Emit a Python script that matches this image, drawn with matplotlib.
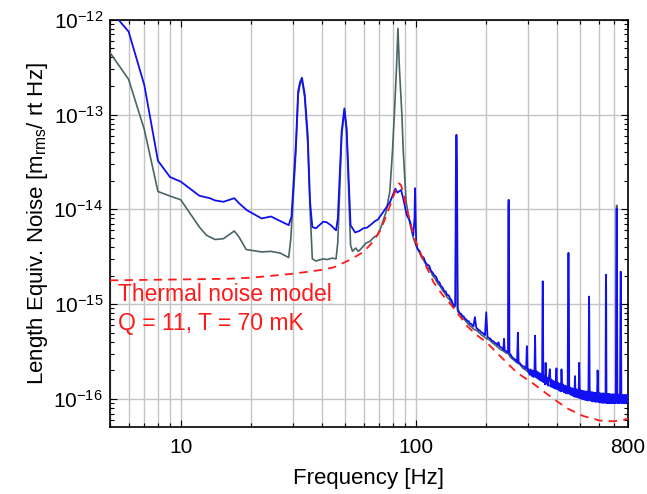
import matplotlib
matplotlib.use("Agg")
import matplotlib.pyplot as plt
from matplotlib.ticker import LogLocator, FixedLocator, FixedFormatter, NullFormatter, LogFormatterSciNotation

plt.rcParams['font.family'] = ['Liberation Sans', 'DejaVu Sans']
plt.rcParams['mathtext.fontset'] = 'custom'
plt.rcParams['mathtext.rm'] = 'Liberation Sans'
plt.rcParams['mathtext.it'] = 'Liberation Sans:italic'
plt.rcParams['mathtext.bf'] = 'Liberation Sans:bold'
plt.rcParams['lines.scale_dashes'] = False

# ---------------- data ----------------
blue_freq = [5, 6, 7, 8, 9, 10, 12, 13.3, 14, 15.2, 16.9, 17.7, 19.1, 22.1, 24.2, 28.8,
             29.6, 30.9, 31.6, 32.2, 32.8, 33.7, 34.7, 35.5, 36.3, 37.6, 40.4, 41.8, 43.5,
             45.8, 46.6, 48.4, 49.7, 50.8, 52.8, 55.2, 57.5, 59.8, 62, 64.5, 67.1, 69,
             72.8, 77.8, 81.9, 83.5, 85.0, 86.6, 88.5, 91.5, 94.5, 97.6, 98.8, 99.3, 99.9,
             100.5, 102, 104, 106, 108, 110, 112, 114, 116, 118, 120, 122, 124, 126, 128,
             130, 132, 134, 136, 138, 140, 142, 144, 145.5, 147.3, 148.2, 149, 149.8,
             150.8, 152, 154, 156, 158, 160, 162, 164, 166, 168, 170, 172, 174, 176,
             178.5, 181, 183, 185, 187, 189, 191, 193, 195, 197, 199.5, 202, 205, 208,
             211, 214, 217, 220, 223, 225, 227, 230, 233, 236, 237.5, 239, 242, 245, 247,
             247.8, 248.5, 249.2, 250.5, 253, 256, 259, 262, 265, 268, 270, 272, 274,
             277, 280, 283, 286, 289, 292, 295, 297, 299, 302, 305, 308, 311, 314, 317,
             320, 322, 324, 327, 330, 333, 336, 339, 342, 345, 346.3, 347, 347.7, 349,
             352, 355, 357, 359, 362, 365, 368, 372, 375, 378, 381, 384, 387, 390, 393,
             397, 400, 404, 408, 412, 415, 417, 420, 424, 428, 432, 436, 440, 443, 445,
             446.5, 448, 450, 454, 458, 462, 466, 470, 473, 476, 479, 483, 487, 491, 493,
             496, 499, 503, 507, 511, 515, 519, 523, 527, 531, 535, 539, 543, 545.5,
             546.5, 547.5, 550, 554, 558, 562, 566, 570, 574, 578, 582, 586, 590, 594,
             598, 602, 606, 610, 614, 618, 622, 626, 630, 634, 638, 642, 644, 645, 646,
             648, 652, 656, 660, 665, 670, 675, 680, 685, 690, 695, 700, 705, 710, 714,
             716, 718, 721, 725, 730, 735, 740, 743.5, 745, 746.5, 750, 755, 760, 765,
             770, 775, 780, 785, 790, 795, 800]
blue_asd = [1.27e-12, 7.5e-13, 2.04e-13, 3.25e-14, 2.19e-14, 1.96e-14, 1.39e-14, 1.31e-14,
            1.24e-14, 1.2e-14, 1.31e-14, 1.16e-14, 9.8e-15, 8.0e-15, 8.4e-15, 6.8e-15,
            8.4e-15, 4.8e-14, 1.77e-13, 2.2e-13, 2.44e-13, 1.63e-13, 6.1e-14, 1.2e-14,
            6.5e-15, 6.3e-15, 7.4e-15, 7.3e-15, 6.8e-15,
            6.0e-15, 8.0e-15, 6.65e-14, 1.16e-13, 7.2e-14, 6.8e-15, 5.7e-15, 5.9e-15,
            6.3e-15, 6.4e-15, 6.9e-15, 7.5e-15, 7.8e-15,
            9.4e-15, 1.2e-14, 1.65e-14, 1.5e-14, 1.55e-14, 1.6e-14, 1.3e-14, 8.7e-15,
            7.5e-15, 5.3e-15, 8e-15, 1.67e-14, 8e-15,
            4.2e-15, 3.8e-15, 3.6e-15, 3.2e-15, 3.1e-15, 2.75e-15, 2.6e-15, 2.55e-15,
            2.25e-15, 2.15e-15, 2.0e-15, 1.95e-15, 1.75e-15, 1.7e-15, 1.55e-15,
            1.5e-15, 1.38e-15, 1.36e-15, 1.25e-15, 1.24e-15, 1.15e-15, 1.1e-15, 1.0e-15,
            9.5e-16, 1.0e-15, 3e-14, 6.1e-14, 3e-14,
            9e-16, 8.5e-16, 8.0e-16, 7.9e-16, 7.5e-16, 7.4e-16, 7.0e-16, 6.9e-16, 6.6e-16,
            6.6e-16, 6.2e-16, 6.2e-16, 6.0e-16, 5.8e-16,
            7.3e-16, 5.6e-16, 5.5e-16, 5.3e-16, 5.3e-16, 5.1e-16, 5.0e-16, 4.95e-16,
            4.8e-16, 4.7e-16, 8.2e-16, 4.5e-16, 4.4e-16, 4.3e-16,
            4.1e-16, 4.05e-16, 3.9e-16, 3.85e-16, 3.7e-16, 3.95e-16, 3.6e-16, 3.5e-16,
            3.45e-16, 3.3e-16, 4.3e-16, 3.25e-16, 3.2e-16, 3.1e-16, 3.1e-16,
            8e-15, 1.26e-14, 8e-15, 3.0e-16, 2.95e-16, 2.8e-16, 2.7e-16, 2.65e-16,
            2.6e-16, 2.5e-16, 2.45e-16, 5.0e-16, 2.4e-16,
            2.4e-16, 2.3e-16, 2.25e-16, 2.2e-16, 2.2e-16, 2.1e-16, 2.1e-16, 3.6e-16,
            2.0e-16, 2.05e-16, 1.8e-16, 2.05e-16, 1.75e-16, 2.0e-16, 1.7e-16,
            1.95e-16, 4.65e-16, 1.7e-16, 1.95e-16, 1.65e-16, 1.9e-16, 1.6e-16, 1.85e-16,
            1.55e-16, 1.8e-16, 1.2e-15, 1.74e-15, 1.2e-15, 1.5e-16,
            1.72e-16, 1.42e-16, 2.4e-16, 1.45e-16, 1.68e-16, 1.38e-16, 1.62e-16, 2.06e-16,
            1.35e-16, 1.6e-16, 1.33e-16, 1.55e-16, 1.3e-16, 1.52e-16, 1.28e-16,
            2.1e-16, 1.27e-16, 1.48e-16, 1.22e-16, 1.45e-16, 1.2e-16, 2.05e-16, 1.22e-16,
            1.42e-16, 1.17e-16, 1.38e-16, 1.15e-16, 1.36e-16, 1.14e-16, 2.0e-15,
            3.47e-15, 2.0e-15, 1.14e-16, 1.32e-16, 1.1e-16, 1.3e-16, 1.08e-16, 1.28e-16,
            1.06e-16, 1.74e-16, 1.05e-16, 1.26e-16, 1.04e-16, 1.25e-16, 1.03e-16,
            2.4e-16, 1.02e-16, 1.23e-16, 1.0e-16, 1.22e-16, 9.9e-17, 1.21e-16, 9.8e-17,
            1.2e-16, 9.7e-17, 1.2e-16, 9.6e-17, 1.19e-16, 8e-16,
            1.2e-15, 8e-16, 9.7e-17, 1.18e-16, 9.5e-17, 1.18e-16, 9.4e-17, 1.17e-16,
            9.4e-17, 1.16e-16, 9.3e-17, 1.16e-16, 9.3e-17, 2.0e-16,
            1.15e-16, 9.2e-17, 1.15e-16, 9.2e-17, 1.14e-16, 9.1e-17, 1.14e-16, 9.1e-17,
            1.14e-16, 9.1e-17, 1.13e-16, 9.1e-17, 1.5e-15, 2.04e-15, 1.5e-15,
            1.13e-16, 9.0e-17, 1.13e-16, 9.0e-17, 1.13e-16, 9.0e-17, 1.12e-16, 9.0e-17,
            1.12e-16, 9.0e-17, 1.12e-16, 9.0e-17, 1.12e-16, 9.0e-17, 5e-15,
            1.02e-14, 5e-15, 1.11e-16, 9.0e-17, 1.11e-16, 9.0e-17, 1.11e-16, 1.5e-15,
            2.2e-15, 1.5e-15, 9.0e-17, 1.1e-16, 9.0e-17, 1.1e-16,
            9.0e-17, 1.1e-16, 9.0e-17, 1.1e-16, 9.0e-17, 1.1e-16, 1.0e-16]

gray_freq = [5, 6, 7, 8, 9, 10, 12, 12.9, 14, 15.2, 16.9, 17.7, 19.0, 22.1, 24.2, 26.5,
             28.8, 29.4, 30.9, 31.6, 32.2, 32.8, 33.7, 34.7, 35.5, 36.3, 37.6, 40.4, 42,
             44, 45.8, 46.6, 48.4, 49.7, 50.8, 52.8, 53.8, 55.5, 57, 58.3, 61.4, 63.9,
             66.5, 68.5, 71, 74.8, 77.6, 79.6, 81.1, 82.8, 84.0, 85.2, 87.3, 88.5, 91.0,
             94.5, 97.6, 100.5, 103, 106, 109, 112, 115, 118, 121, 124, 127, 130, 133,
             136, 139, 142, 145, 147.5, 149, 150.6, 153, 157, 161, 165, 169, 173, 177,
             181, 186, 191, 196, 201, 206, 212, 218, 224, 230, 236, 242, 247.8, 248.5,
             249.3, 255, 262, 270, 278, 286, 295, 305, 315, 325, 335, 345, 355, 365,
             375, 385, 395, 405, 415, 425, 435, 445, 455, 465, 475, 485, 495, 510, 525,
             540, 555, 570, 585, 600, 620, 640, 660, 680, 700, 714, 716, 718, 740, 760,
             780, 800]
gray_asd = [4.5e-13, 2.35e-13, 6.93e-14, 1.54e-14, 1.38e-14, 1.26e-14, 6.5e-15, 5.3e-15,
            4.8e-15, 4.9e-15, 5.9e-15, 5.1e-15, 3.76e-15, 3.55e-15, 3.6e-15, 3.45e-15,
            3.1e-15, 4.9e-15, 4.0e-14, 1.6e-13, 2.1e-13, 2.3e-13, 1.5e-13, 5e-14, 1e-14,
            3.0e-15, 2.85e-15, 3.0e-15, 2.95e-15,
            3.05e-15, 3.0e-15, 4.5e-15, 6e-14, 1.1e-13, 6.5e-14, 4.2e-15, 3.6e-15,
            3.9e-15, 3.6e-15, 3.8e-15, 4.4e-15, 4.6e-15,
            5.1e-15, 5.3e-15, 6.4e-15, 9.4e-15, 1.55e-14, 4.1e-14, 1.0e-13, 3.1e-13,
            8.1e-13, 3.1e-13, 1.0e-13, 4.1e-14, 1.2e-14,
            7e-15, 5.0e-15, 4.1e-15, 3.6e-15, 3.1e-15, 2.8e-15, 2.45e-15, 2.3e-15, 2.0e-15,
            1.85e-15, 1.65e-15, 1.55e-15, 1.4e-15, 1.3e-15,
            1.18e-15, 1.12e-15, 1.02e-15, 9.2e-16, 9.5e-16, 5.5e-14, 8.5e-16, 7.9e-16,
            7.3e-16, 6.9e-16, 6.4e-16, 6.0e-16, 5.7e-16, 5.4e-16,
            5.3e-16, 5.0e-16, 4.7e-16, 4.5e-16, 4.3e-16, 4.2e-16, 3.9e-16, 3.7e-16,
            3.5e-16, 3.3e-16, 3.2e-16, 3.05e-16, 3e-16, 1.15e-14,
            2.9e-16, 2.7e-16, 2.55e-16, 2.4e-16, 2.3e-16, 2.1e-16, 2.0e-16, 1.85e-16,
            1.75e-16, 1.7e-16, 1.6e-16, 1.55e-16, 1.5e-16, 1.42e-16,
            1.36e-16, 1.35e-16, 1.3e-16, 1.25e-16, 1.22e-16, 1.2e-16, 1.15e-16, 1.15e-16,
            1.12e-16, 1.1e-16, 1.08e-16, 1.06e-16, 1.05e-16, 1.03e-16, 1.02e-16,
            1.0e-16, 1.0e-16, 9.8e-17, 9.7e-17, 9.6e-17, 9.5e-17, 9.5e-17, 9.4e-17,
            9.4e-17, 9.3e-17, 9.3e-17, 1.1e-14, 9.3e-17, 9.3e-17, 9.3e-17,
            9.2e-17, 9.2e-17]

model_freq = [5, 7, 10, 16, 20, 25, 30, 35, 40, 45, 52, 60, 66, 71, 76, 81, 83, 85,
              86.5, 88.5, 91.5, 94.5, 97.6, 100, 105, 110, 119, 130, 142, 155, 165, 180,
              200, 228, 269, 316, 372, 438, 516, 608, 693, 764, 800]
model_asd = [1.78e-15, 1.8e-15, 1.82e-15, 1.85e-15, 1.9e-15, 2.0e-15, 2.09e-15, 2.2e-15,
             2.3e-15, 2.45e-15, 2.9e-15, 3.55e-15, 4.6e-15, 6.1e-15, 9.4e-15, 1.45e-14,
             1.7e-14, 1.88e-14, 1.8e-14, 1.5e-14, 1.02e-14, 7.5e-15, 5.5e-15, 4.6e-15,
             3.4e-15, 2.6e-15, 1.7e-15, 1.25e-15, 9.7e-16, 7.3e-16, 5.9e-16, 4.8e-16,
             3.95e-16, 2.85e-16, 1.9e-16, 1.45e-16, 1.07e-16, 8.0e-17, 6.6e-17, 5.9e-17,
             5.8e-17, 6.0e-17, 6.2e-17]

xtick_vals = [10, 100, 800]
xtick_labels = ['10', '100', '800']
ytick_vals = [1e-16, 1e-15, 1e-14, 1e-13, 1e-12]
annotation_lines = ['Thermal noise model', 'Q = 11, T = 70 mK']

# ---------------- figure ----------------
fig = plt.figure(figsize=(6.47, 4.94), dpi=100)
ax = fig.add_axes([0.170, 0.1356, 0.8006, 0.8245])

ax.plot(gray_freq, gray_asd, color='#4b6464', lw=1.2, zorder=3)
ax.plot(blue_freq, blue_asd, color='#1010f0', lw=1.3, zorder=4)
ax.plot(model_freq, model_asd, color='#ff1a1a', lw=1.3, dashes=(6, 4.5), zorder=5)

ax.set_xscale('log')
ax.set_yscale('log')
ax.set_xlim(5, 800)
ax.set_ylim(5.05e-17, 1e-12)

ax.xaxis.set_major_locator(FixedLocator(xtick_vals))
ax.xaxis.set_major_formatter(FixedFormatter(xtick_labels))
ax.xaxis.set_minor_locator(LogLocator(base=10, subs=[2, 3, 4, 5, 6, 7, 8, 9], numticks=20))
ax.xaxis.set_minor_formatter(NullFormatter())
ax.yaxis.set_major_locator(FixedLocator(ytick_vals))
ax.yaxis.set_major_formatter(LogFormatterSciNotation())
ax.yaxis.set_minor_locator(LogLocator(base=10, subs=[2, 3, 4, 5, 6, 7, 8, 9], numticks=20))
ax.yaxis.set_minor_formatter(NullFormatter())

ax.grid(True, which='both', axis='x', color='#c4c4c4', lw=1.0)
ax.grid(True, which='major', axis='y', color='#c4c4c4', lw=1.0)
ax.set_axisbelow(True)

ax.tick_params(which='both', direction='in', top=True, right=True, width=0.8)
ax.tick_params(which='major', length=5, labelsize=15)
ax.tick_params(which='minor', length=3)
ax.tick_params(axis='y', which='major', pad=5)
ax.tick_params(axis='x', which='major', pad=8)
for s in ax.spines.values():
    s.set_linewidth(1.2)

ax.set_xlabel('Frequency [Hz]', fontsize=16)
ax.set_ylabel(r'Length Equiv. Noise [m$_{\mathrm{rms}}$/ rt Hz]', fontsize=16)
ax.xaxis.set_label_coords(0.5, -0.10)
ax.yaxis.set_label_coords(-0.116, 0.5)

ax.text(0.0154, 0.310, annotation_lines[0], transform=ax.transAxes, color='#ff1a1a',
        fontsize=16.5, va='baseline', ha='left', zorder=6)
ax.text(0.0154, 0.238, annotation_lines[1], transform=ax.transAxes, color='#ff1a1a',
        fontsize=16.5, va='baseline', ha='left', zorder=6)

fig.savefig('out.png', dpi=100)
